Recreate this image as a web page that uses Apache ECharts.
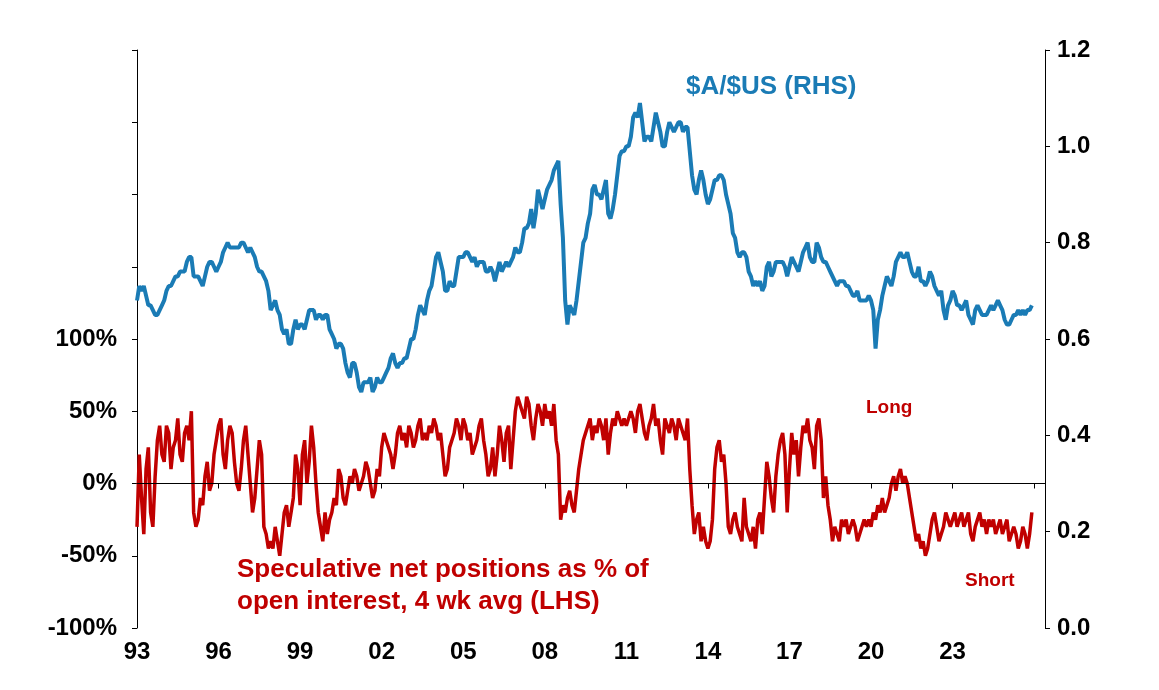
<!DOCTYPE html>
<html lang="en" style="height: 100%">
<head>
  <meta charset="utf-8">
  <title>AUD and speculative positions</title>
  <script src="https://cdn.jsdelivr.net/npm/echarts@6/dist/echarts.min.js"></script>
</head>
<body style="height: 100%; margin: 0; background: #fff">
  <div id="chart" style="height: 690px; width: 1159px"></div>
  <script type="text/javascript">
    // monthly, starting Jan 1993
    const startYear = 1993;
    const audUsd = [
      0.68,0.71,0.70,0.71,0.69,0.67,0.67,0.66,0.65,0.65,0.66,0.67,
      0.68,0.70,0.71,0.71,0.72,0.73,0.73,0.74,0.74,0.74,0.76,0.77,
      0.77,0.73,0.73,0.73,0.72,0.71,0.73,0.75,0.76,0.76,0.75,0.74,
      0.75,0.76,0.78,0.79,0.80,0.79,0.79,0.79,0.79,0.79,0.80,0.80,
      0.79,0.78,0.79,0.78,0.77,0.75,0.74,0.74,0.73,0.72,0.70,0.66,
      0.67,0.68,0.66,0.65,0.62,0.61,0.62,0.59,0.59,0.62,0.64,0.62,
      0.63,0.63,0.62,0.64,0.66,0.66,0.66,0.64,0.65,0.65,0.64,0.65,
      0.65,0.62,0.61,0.60,0.58,0.59,0.59,0.58,0.55,0.53,0.52,0.55,
      0.55,0.53,0.50,0.49,0.51,0.51,0.51,0.52,0.49,0.50,0.52,0.51,
      0.51,0.52,0.53,0.54,0.56,0.57,0.55,0.54,0.55,0.55,0.56,0.56,
      0.58,0.60,0.60,0.62,0.65,0.67,0.66,0.65,0.68,0.70,0.71,0.74,
      0.77,0.78,0.76,0.74,0.70,0.70,0.72,0.71,0.71,0.74,0.77,0.77,
      0.77,0.78,0.78,0.77,0.76,0.77,0.75,0.76,0.76,0.76,0.74,0.74,
      0.75,0.74,0.72,0.74,0.76,0.74,0.75,0.76,0.75,0.76,0.77,0.79,
      0.78,0.78,0.80,0.83,0.83,0.84,0.87,0.83,0.86,0.91,0.89,0.87,
      0.89,0.91,0.92,0.93,0.95,0.96,0.97,0.88,0.81,0.68,0.63,0.67,
      0.66,0.65,0.68,0.72,0.76,0.80,0.81,0.84,0.86,0.91,0.92,0.90,
      0.90,0.89,0.91,0.93,0.86,0.85,0.87,0.90,0.94,0.98,0.99,0.99,
      1.00,1.00,1.02,1.06,1.07,1.06,1.09,1.05,1.01,1.02,1.02,1.01,
      1.04,1.07,1.05,1.03,1.00,1.00,1.03,1.05,1.04,1.03,1.04,1.05,
      1.05,1.03,1.04,1.04,0.99,0.94,0.91,0.90,0.93,0.95,0.93,0.90,
      0.88,0.89,0.91,0.93,0.93,0.94,0.94,0.93,0.90,0.88,0.86,0.82,
      0.81,0.78,0.77,0.78,0.78,0.77,0.74,0.73,0.71,0.72,0.71,0.72,
      0.70,0.71,0.75,0.76,0.73,0.74,0.76,0.76,0.76,0.76,0.75,0.73,
      0.75,0.77,0.76,0.75,0.74,0.76,0.78,0.79,0.80,0.77,0.76,0.76,
      0.80,0.79,0.77,0.76,0.76,0.75,0.74,0.73,0.72,0.71,0.72,0.72,
      0.72,0.71,0.71,0.70,0.69,0.69,0.70,0.68,0.68,0.68,0.68,0.69,
      0.68,0.66,0.58,0.64,0.66,0.69,0.71,0.73,0.72,0.71,0.73,0.76,
      0.77,0.78,0.77,0.77,0.78,0.76,0.74,0.73,0.73,0.75,0.72,0.72,
      0.71,0.72,0.74,0.73,0.71,0.70,0.69,0.70,0.66,0.64,0.67,0.68,
      0.70,0.69,0.67,0.67,0.66,0.67,0.68,0.65,0.64,0.63,0.66,0.67,
      0.66,0.65,0.65,0.65,0.66,0.67,0.66,0.67,0.68,0.67,0.66,0.64,
      0.63,0.63,0.64,0.65,0.65,0.66,0.65,0.66,0.65,0.66,0.66,0.67
    ];
    const netPositions = [
      -30,20,-10,-35,10,25,-20,-30,5,30,40,20,
      15,40,35,10,25,30,45,20,15,35,40,30,
      50,-20,-30,-25,-10,-15,5,15,-5,0,20,30,
      40,45,20,10,30,40,35,15,0,-5,10,30,
      40,20,0,-20,-10,10,30,20,-30,-35,-45,-40,
      -45,-30,-40,-50,-35,-20,-15,-30,-20,-10,20,10,
      -15,20,30,0,15,40,25,0,-20,-30,-40,-20,
      -35,-25,-20,-10,-15,10,5,-10,-15,-5,5,0,
      10,5,-5,0,5,15,10,0,-10,-5,10,5,
      25,35,30,25,20,10,20,35,40,30,35,25,
      40,35,25,30,40,45,30,35,30,40,35,45,
      40,30,35,20,5,10,25,30,35,45,40,30,
      45,40,30,35,20,25,30,40,45,30,20,5,
      10,25,5,20,40,30,15,35,40,10,30,50,
      60,55,50,45,60,55,40,30,45,55,50,40,
      55,45,50,40,55,30,20,-25,-15,-20,-10,-5,
      -15,-20,-5,10,20,30,35,40,45,30,40,35,
      45,40,30,45,20,35,45,40,50,45,40,45,
      40,45,50,45,35,50,55,45,35,30,40,45,
      55,40,45,30,20,45,40,35,45,40,30,45,
      40,35,30,45,10,-15,-35,-25,-20,-40,-30,-40,
      -45,-40,-25,10,25,30,15,20,0,-30,-35,-25,
      -20,-30,-35,-40,-10,-30,-35,-40,-30,-45,-25,-20,
      -35,-10,15,5,-10,-20,5,20,30,35,20,-20,
      10,35,20,30,5,25,40,35,45,30,25,10,
      40,45,30,-10,5,-15,-25,-40,-30,-35,-40,-25,
      -30,-25,-35,-30,-25,-30,-40,-35,-30,-25,-30,-25,
      -30,-20,-25,-15,-20,-10,-20,-15,-10,0,5,-5,
      5,10,0,5,0,-10,-20,-30,-40,-35,-45,-40,
      -50,-45,-35,-25,-20,-30,-40,-35,-30,-20,-25,-30,
      -25,-20,-30,-25,-20,-30,-25,-20,-35,-40,-30,-25,
      -20,-30,-25,-35,-25,-30,-25,-35,-30,-25,-35,-30,
      -25,-40,-35,-30,-35,-45,-40,-30,-35,-45,-35,-20
    ];

    const toPoints = arr => arr.map((v, i) => [startYear + i / 12, v]);
    const font = 'Liberation Sans, Arial, sans-serif';
    const axisText = { color: '#000', fontSize: 24, fontWeight: 'bold', fontFamily: font };

    const chart = echarts.init(document.getElementById('chart'));
    chart.setOption({
      animation: false,
      grid: { left: 137, right: 114, top: 50, bottom: 62 },
      xAxis: {
        type: 'value', min: 1993, max: 2026.4, interval: 3,
        axisLine: { lineStyle: { color: '#000', width: 1 } },
        axisTick: { lineStyle: { color: '#000' } },
        splitLine: { show: false },
        axisLabel: Object.assign({}, axisText, {
          margin: 12,
          formatter: v => v > 2025 ? '' : String(Math.round(v) % 100).padStart(2, '0')
        })
      },
      yAxis: [
        {
          type: 'value', min: -100, max: 300, interval: 50,
          axisLine: { show: true, lineStyle: { color: '#000' } },
          axisTick: { show: true, lineStyle: { color: '#000' } },
          splitLine: { show: false },
          axisLabel: Object.assign({}, axisText, {
            margin: 20,
            formatter: v => v > 100 ? '' : v + '%'
          })
        },
        {
          type: 'value', min: 0, max: 1.2, interval: 0.2,
          axisLine: { show: true, lineStyle: { color: '#000' } },
          axisTick: { show: true, lineStyle: { color: '#000' } },
          splitLine: { show: false },
          axisLabel: Object.assign({}, axisText, {
            margin: 12,
            formatter: v => v.toFixed(1)
          })
        }
      ],
      series: [
        {
          type: 'line', yAxisIndex: 1, showSymbol: false,
          lineStyle: { color: '#1a7bb5', width: 4 },
          data: toPoints(audUsd)
        },
        {
          type: 'line', yAxisIndex: 0, showSymbol: false,
          lineStyle: { color: '#c00000', width: 3.5 },
          data: toPoints(netPositions),
          markLine: {
            silent: true, symbol: 'none', label: { show: false },
            lineStyle: { color: '#000', width: 1, type: 'solid' },
            data: [{ yAxis: 0 }]
          }
        }
      ],
      graphic: [
        { type: 'text', left: 686, top: 74, style: { text: '$A/$US (RHS)', fill: '#1a7bb5', font: 'bold 26px ' + font } },
        { type: 'text', left: 866, top: 398, style: { text: 'Long', fill: '#c00000', font: 'bold 19px ' + font } },
        { type: 'text', left: 965, top: 571, style: { text: 'Short', fill: '#c00000', font: 'bold 19px ' + font } },
        { type: 'text', left: 237, top: 554, style: { text: 'Speculative net positions as % of\nopen interest, 4 wk avg (LHS)', fill: '#c00000', font: 'bold 26px ' + font, lineHeight: 32 } }
      ]
    });
  </script>
</body>
</html>
